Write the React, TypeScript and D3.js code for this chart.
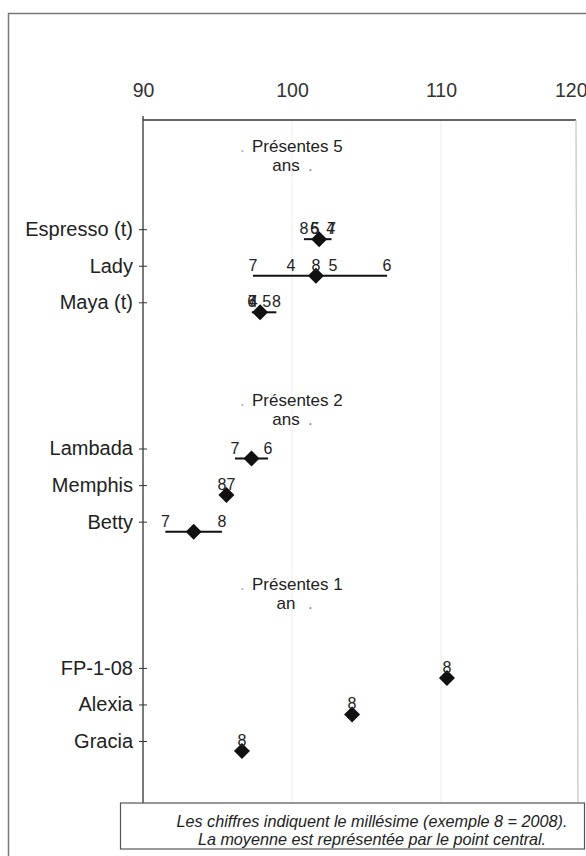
import React, { useEffect, useRef } from 'react';
import * as d3 from 'd3';

// varieties, top to bottom, with the group (years of presence) they belong to
const varieties = ['Espresso (t)', 'Lady', 'Maya (t)', 'Lambada', 'Memphis', 'Betty', 'FP-1-08', 'Alexia', 'Gracia'];
const groupIndex = [0, 0, 0, 1, 1, 1, 2, 2, 2];
const groupTitles = ['Présentes 5', 'Présentes 2', 'Présentes 1'];
const groupSubtitles = ['ans', 'ans', 'an'];

// vintage digit (8 = 2008) and index value for each variety
const yearLabels: number[][] = [
  [8, 6, 5, 4, 7],
  [7, 4, 8, 5, 6],
  [6, 7, 4, 5, 8],
  [7, 6],
  [8, 7],
  [7, 8],
  [8],
  [8],
  [8],
];
const indexValues: number[][] = [
  [100.8, 101.5, 101.55, 102.6, 102.65],
  [97.38, 99.93, 101.6, 102.75, 106.38],
  [97.3, 97.35, 97.4, 98.3, 98.95],
  [96.17, 98.39],
  [95.3, 95.9],
  [91.5, 95.3],
  [110.4],
  [104.03],
  [96.64],
];

const xTicks = [90, 100, 110, 120];
const gridValues = [100, 110];
const noteLines = [
  'Les chiffres indiquent le millésime (exemple 8 = 2008).',
  'La moyenne est représentée par le point central.',
];

const W = 586;
const H = 856;
const FONT = '"Liberation Sans", Arial, sans-serif';

const Chart = () => {
  const ref = useRef<SVGSVGElement>(null);

  useEffect(() => {
    if (!ref.current) return;
    const svg = d3.select(ref.current);
    svg.selectAll('*').remove();

    const plot = { left: 143, top: 120, right: 576, bottom: 803 };
    const x = d3.scaleLinear().domain([90, 120]).range([143, 590]);
    const y = d3.scaleLinear().domain([0, 17]).range([119.5, 741]);
    const slot = (i: number) => 3 + i + 3 * groupIndex[i];
    const headerShift = [-2.1, -1.15, -2.12];

    // outer frame
    svg.append('rect')
      .attr('x', 8.5).attr('y', 13.5)
      .attr('width', 620).attr('height', 900)
      .attr('fill', 'none').attr('stroke', '#777').attr('stroke-width', 1.5);

    // faint grid
    svg.append('g').selectAll('line').data(gridValues).join('line')
      .attr('x1', (d) => x(d)).attr('x2', (d) => x(d))
      .attr('y1', plot.top).attr('y2', plot.bottom)
      .attr('stroke', '#ececec').attr('stroke-width', 1);

    // plot frame
    svg.append('line')
      .attr('x1', plot.left).attr('x2', plot.right)
      .attr('y1', plot.top).attr('y2', plot.top)
      .attr('stroke', '#333').attr('stroke-width', 1.5);
    svg.append('line')
      .attr('x1', plot.right).attr('x2', plot.right + 2)
      .attr('y1', plot.top).attr('y2', plot.bottom)
      .attr('stroke', '#c4c4c4').attr('stroke-width', 1.2);

    // top axis labels
    const xAxis = d3.axisTop(x).tickValues(xTicks).tickSize(0).tickPadding(23)
      .tickFormat((d) => String(d));
    const gx = svg.append('g').attr('transform', `translate(0,${plot.top})`).call(xAxis);
    gx.select('.domain').remove();
    gx.selectAll('text')
      .attr('font-family', FONT).attr('font-size', 19.5).attr('fill', '#333');
    gx.selectAll<SVGTextElement, number>('text')
      .filter((d) => d === 120)
      .attr('text-anchor', 'end').attr('dx', -3);

    // left axis with crossing ticks
    const yAxis = d3.axisLeft(y)
      .tickValues(varieties.map((_, i) => slot(i)))
      .tickFormat((_, i) => varieties[i])
      .tickSize(4).tickPadding(6);
    const gy = svg.append('g').attr('transform', `translate(${plot.left},0)`).call(yAxis);
    gy.select('.domain').remove();
    gy.selectAll('.tick line').attr('x1', 4).attr('stroke', '#333');
    gy.selectAll('text')
      .attr('font-family', FONT).attr('font-size', 20).attr('fill', '#222');
    svg.append('line')
      .attr('x1', plot.left).attr('x2', plot.left)
      .attr('y1', plot.top - 4).attr('y2', plot.bottom)
      .attr('stroke', '#333').attr('stroke-width', 1.3);

    // group headers
    groupTitles.forEach((title, g) => {
      const first = slot(g * 3);
      const base = y(first + headerShift[g]);
      const hg = svg.append('g').attr('font-family', FONT).attr('font-size', 17);
      hg.append('text').attr('x', 240).attr('y', base).attr('fill', '#aaa').text('.');
      hg.append('text').attr('x', 252).attr('y', base).attr('fill', '#222').text(title);
      hg.append('text').attr('x', 286).attr('y', base + 19).attr('text-anchor', 'middle')
        .attr('fill', '#222').text(groupSubtitles[g]);
      hg.append('text').attr('x', 308).attr('y', base + 19).attr('fill', '#888').text('.');
    });

    // ranges, means and vintage labels
    const diamond = d3.symbol().type(d3.symbolSquare).size(128);
    varieties.forEach((_, i) => {
      const vals = indexValues[i];
      const ty = y(slot(i));
      const my = ty + 10;
      const [lo, hi] = d3.extent(vals) as [number, number];
      const mean = d3.mean(vals) as number;
      const rg = svg.append('g');
      if (hi > lo) {
        rg.append('line')
          .attr('x1', x(lo)).attr('x2', x(hi))
          .attr('y1', my).attr('y2', my)
          .attr('stroke', '#111').attr('stroke-width', 2);
      }
      rg.append('path')
        .attr('d', diamond())
        .attr('transform', `translate(${x(mean)},${my}) rotate(45)`)
        .attr('fill', '#111');
      rg.selectAll('text').data(vals).join('text')
        .attr('x', (d) => x(d))
        .attr('y', ty + 5)
        .attr('text-anchor', 'middle')
        .attr('font-family', FONT).attr('font-size', 16).attr('fill', '#222')
        .text((_, j) => String(yearLabels[i][j]));
    });

    // note box
    svg.append('rect')
      .attr('x', 120.5).attr('y', plot.bottom)
      .attr('width', 464).attr('height', 46)
      .attr('fill', '#fff').attr('stroke', '#555').attr('stroke-width', 1.2);
    svg.append('g').selectAll('text').data(noteLines).join('text')
      .attr('x', 372).attr('y', (_, i) => 827 + i * 18)
      .attr('text-anchor', 'middle')
      .attr('font-family', FONT).attr('font-size', 16.2).attr('font-style', 'italic')
      .attr('fill', '#222')
      .text((d) => d);
  }, []);

  return (
    <svg
      ref={ref}
      width={W}
      height={H}
      style={{ position: 'absolute', left: 0, top: 0, background: '#fff' }}
    />
  );
};

export default function App() {
  return <Chart />;
}
